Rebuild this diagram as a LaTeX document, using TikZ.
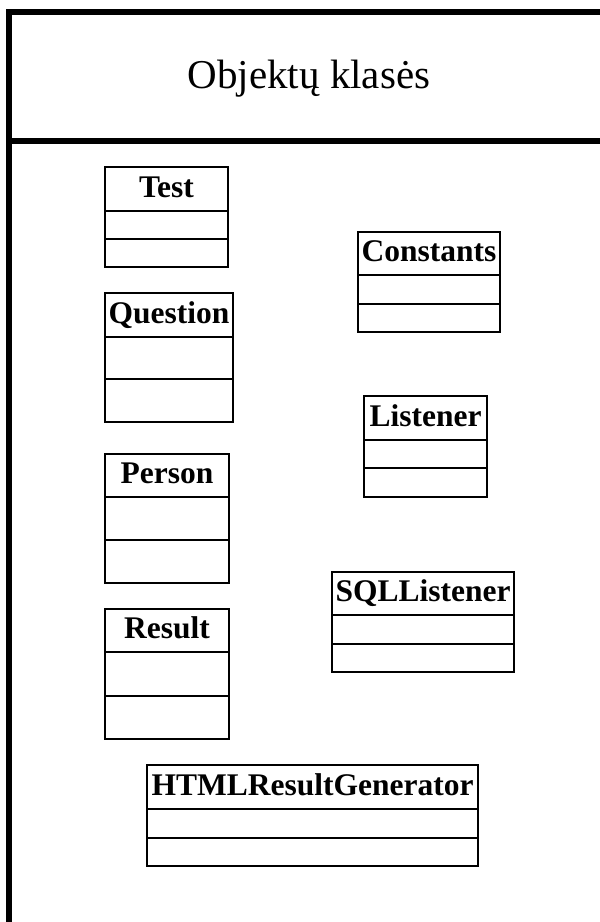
\documentclass[tikz,border=0pt]{standalone}
\usepackage{fontspec}
\setmainfont{Liberation Serif}
\tikzset{
  frameline/.style={line width=6.5pt, line cap=butt},
  classpart/.style={draw, line width=1.3pt, inner sep=0pt, outer sep=0pt, anchor=north west},
  classname/.style={font=\bfseries\fontsize{31.5}{36}\selectfont, text height=22pt, text depth=6pt},
  titletext/.style={font=\fontsize{41}{47}\selectfont, anchor=base, inner sep=0pt}
}
% #1 name, #2 left, #3 top, #4 right, #5 first divider, #6 second divider, #7 bottom, #8 class name
\newcommand\umlclass[8]{%
  \pgfmathsetmacro\cw{#4-#2}%
  \pgfmathsetmacro\ha{#5-#3}%
  \pgfmathsetmacro\hb{#6-#5}%
  \pgfmathsetmacro\hc{#7-#6}%
  \node[classpart, classname, minimum width=\cw pt, minimum height=\ha pt] (#1) at (#2,#3) {#8};
  \node[classpart, minimum width=\cw pt, minimum height=\hb pt] (#1-attr) at (#1.south west) {};
  \node[classpart, minimum width=\cw pt, minimum height=\hc pt] (#1-ops) at (#1-attr.south west) {};
}
\begin{document}
\begin{tikzpicture}[x=1pt, y=-1pt]
  \useasboundingbox (0,0) rectangle (600,922);
  % package frame
  \draw[frameline] (6,12) -- (600,12);
  \draw[frameline] (9,9) -- (9,922);
  \draw[frameline] (6,141) -- (600,141);
  \node[titletext] (title) at (309,88) {Objektų klasės};
  % classes
  \umlclass{test}{105}{167}{228}{211}{239}{267}{Test}
  \umlclass{question}{105}{293}{233}{337}{379}{422}{Question}
  \umlclass{person}{105}{454}{229}{497}{540}{583}{Person}
  \umlclass{result}{105}{609}{229}{652}{696}{739}{Result}
  \umlclass{constants}{358}{232}{500}{275}{304}{332}{Constants}
  \umlclass{listener}{364}{396}{487}{440}{468}{497}{Listener}
  \umlclass{sqllistener}{332}{572}{514}{615}{644}{672}{SQLListener}
  \umlclass{htmlgen}{147}{765}{478}{809}{838}{866}{HTMLResultGenerator}
\end{tikzpicture}
\end{document}
